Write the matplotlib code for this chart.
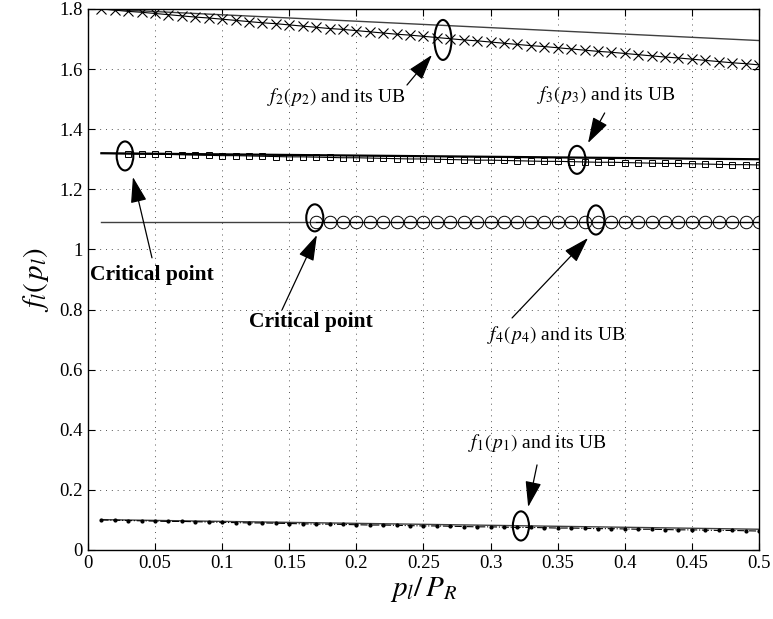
import numpy as np
import matplotlib
matplotlib.use("Agg")
import matplotlib.pyplot as plt
from matplotlib.patches import Ellipse

plt.rcParams['font.family'] = ['Liberation Serif', 'DejaVu Serif']
plt.rcParams['mathtext.fontset'] = 'stix'

# ---------------- data ----------------
x_all = [round(0.01 * k, 2) for k in range(1, 51)]   # 0.01 ... 0.50

f2_vals = [1.800, 1.796, 1.792, 1.789, 1.785, 1.781, 1.777, 1.773, 1.770, 1.766,
           1.762, 1.758, 1.754, 1.751, 1.747, 1.743, 1.739, 1.735, 1.732, 1.728,
           1.724, 1.720, 1.716, 1.713, 1.709, 1.705, 1.701, 1.697, 1.694, 1.690,
           1.686, 1.682, 1.678, 1.675, 1.671, 1.667, 1.663, 1.659, 1.656, 1.652,
           1.648, 1.644, 1.640, 1.637, 1.633, 1.629, 1.625, 1.621, 1.618, 1.614]
ub2_x = [0.01, 0.50]
ub2_vals = [1.800, 1.695]

f3_vals = [1.320, 1.319,
           1.318, 1.317, 1.317, 1.316, 1.315, 1.314, 1.313, 1.312, 1.312, 1.311,
           1.310, 1.309, 1.308, 1.308, 1.307, 1.306, 1.305, 1.305, 1.304, 1.303,
           1.302, 1.301, 1.301, 1.300, 1.299, 1.298, 1.297, 1.297, 1.296, 1.295,
           1.294, 1.293, 1.293, 1.292, 1.291, 1.290, 1.290, 1.289, 1.288, 1.287,
           1.286, 1.286, 1.285, 1.284, 1.283, 1.282, 1.282, 1.281]
f3_critical_index = 2          # critical point at p/P = 0.03
ub3_x = [0.01, 0.50]
ub3_vals = [1.320, 1.300]

f4_x = [round(0.01 * k, 2) for k in range(17, 51)]   # 0.17 ... 0.50
f4_vals = [1.09, 1.09, 1.09, 1.09, 1.09, 1.09, 1.09, 1.09, 1.09, 1.09,
           1.09, 1.09, 1.09, 1.09, 1.09, 1.09, 1.09, 1.09, 1.09, 1.09,
           1.09, 1.09, 1.09, 1.09, 1.09, 1.09, 1.09, 1.09, 1.09, 1.09,
           1.09, 1.09, 1.09, 1.09]
ub4_x = [0.01, 0.50]
ub4_vals = [1.09, 1.09]

f1_vals = [0.100, 0.099, 0.098, 0.097, 0.096, 0.095, 0.095, 0.094, 0.093, 0.092,
           0.091, 0.090, 0.090, 0.089, 0.088, 0.087, 0.086, 0.086, 0.085, 0.084,
           0.083, 0.083, 0.082, 0.081, 0.080, 0.080, 0.079, 0.078, 0.077, 0.077,
           0.076, 0.075, 0.075, 0.074, 0.073, 0.073, 0.072, 0.071, 0.071, 0.070,
           0.069, 0.069, 0.068, 0.067, 0.067, 0.066, 0.065, 0.065, 0.064, 0.063]
ub1_x = [0.01, 0.50]
ub1_vals = [0.101, 0.069]

x_ticks = [0, 0.05, 0.1, 0.15, 0.2, 0.25, 0.3, 0.35, 0.4, 0.45, 0.5]
x_ticklabels = ['0', '0.05', '0.1', '0.15', '0.2', '0.25', '0.3', '0.35', '0.4', '0.45', '0.5']
y_ticks = [0, 0.2, 0.4, 0.6, 0.8, 1.0, 1.2, 1.4, 1.6, 1.8]
y_ticklabels = ['0', '0.2', '0.4', '0.6', '0.8', '1', '1.2', '1.4', '1.6', '1.8']

# ---------------- figure ----------------
fig = plt.figure(figsize=(7.73, 6.19), dpi=100)
ax = fig.add_axes([0.1138, 0.1115, 0.8681, 0.874])

ub_col = '#404040'
# upper bounds
ax.plot(ub2_x, ub2_vals, '-', color=ub_col, lw=1.0, zorder=2)
ax.plot(ub3_x, ub3_vals, '-', color='k', lw=1.6, zorder=2)
ax.plot(ub4_x, ub4_vals, '-', color=ub_col, lw=1.0, zorder=2)
ax.plot(ub1_x, ub1_vals, '-', color=ub_col, lw=1.0, zorder=2)

# actual curves
ax.plot(x_all, f2_vals, '-', color='k', lw=0.8, marker='x', ms=6.5, mew=0.8, zorder=3)
ax.plot(x_all, f3_vals, '-', color='k', lw=0.8, marker='s', ms=4.5, mew=0.7,
        mfc='none', markevery=slice(f3_critical_index, None), zorder=3)
ax.plot(f4_x, f4_vals, '-', color='k', lw=0.8, marker='o', ms=9, mew=0.7,
        mfc='none', zorder=3)
ax.plot(x_all, f1_vals, '-.', color='k', lw=0.8, marker='.', ms=4, zorder=3)

ax.set_xlim(0, 0.5)
ax.set_ylim(0, 1.8)
ax.set_xticks(x_ticks)
ax.set_xticklabels(x_ticklabels)
ax.set_yticks(y_ticks)
ax.set_yticklabels(y_ticklabels)
ax.tick_params(direction='in', top=True, right=True, labelsize=13.5, length=5, width=0.8)
ax.grid(True, color='#555555', linestyle=(0, (1, 5)), lw=0.7)
for s in ax.spines.values():
    s.set_linewidth(1.0)

ax.set_xlabel(r'$p_{\mathit{l}}/\,P_{\mathit{R}}$', fontsize=21, labelpad=2)
ax.set_ylabel(r'$f_{\mathit{l}}(\,p_{\mathit{l}})$', fontsize=21, labelpad=6)

# ---------------- annotations ----------------
arrow = dict(arrowstyle='-|>,head_length=0.8,head_width=0.25', mutation_scale=20,
             lw=0.9, color='k', shrinkA=0, shrinkB=0)

def ell(cx, cy, w, h):
    ax.add_patch(Ellipse((cx, cy), w, h, fill=False, ec='k', lw=1.5, zorder=4))

# f2
ell(0.2645, 1.697, 0.0127, 0.133)
ax.annotate('', xy=(0.2563, 1.647), xytext=(0.2377, 1.547), arrowprops=arrow)
ax.text(0.185, 1.507, r'$f_{\mathit{2}}(\,p_{\mathit{2}})$ and its UB', fontsize=14,
        ha='center', va='center')
# f3
ell(0.3644, 1.298, 0.0127, 0.093)
ax.annotate('', xy=(0.3726, 1.354), xytext=(0.385, 1.454), arrowprops=arrow)
ax.text(0.386, 1.514, r'$f_{\mathit{3}}(\,p_{\mathit{3}})$ and its UB', fontsize=14,
        ha='center', va='center')
# critical point 1
ell(0.0276, 1.311, 0.0124, 0.0965)
ax.annotate('', xy=(0.0335, 1.241), xytext=(0.0477, 0.972), arrowprops=arrow)
ax.text(0.0477, 0.915, 'Critical point', fontsize=15.5, fontweight='bold',
        ha='center', va='center')
# critical point 2
ell(0.169, 1.105, 0.0127, 0.09)
ax.annotate('', xy=(0.1706, 1.048), xytext=(0.1446, 0.799), arrowprops=arrow)
ax.text(0.166, 0.759, 'Critical point', fontsize=15.5, fontweight='bold',
        ha='center', va='center')
# f4
ell(0.3785, 1.098, 0.0127, 0.097)
ax.annotate('', xy=(0.3726, 1.038), xytext=(0.316, 0.772), arrowprops=arrow)
ax.text(0.349, 0.715, r'$f_{\mathit{4}}(\,p_{\mathit{4}})$ and its UB', fontsize=14,
        ha='center', va='center')
# f1
ell(0.3226, 0.080, 0.012, 0.097)
ax.annotate('', xy=(0.328, 0.143), xytext=(0.3346, 0.283), arrowprops=arrow)
ax.text(0.335, 0.356, r'$f_{\mathit{1}}(\,p_{\mathit{1}})$ and its UB', fontsize=14,
        ha='center', va='center')

fig.savefig('out.png', dpi=100)
